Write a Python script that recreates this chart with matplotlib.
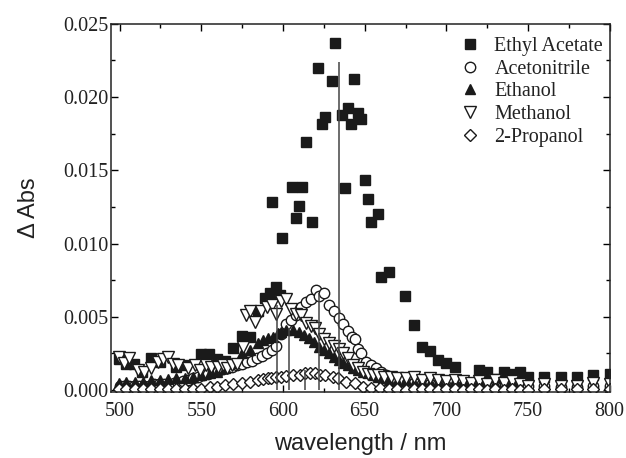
import numpy as np
import matplotlib
matplotlib.use("Agg")
import matplotlib.pyplot as plt
from matplotlib.ticker import MultipleLocator

# ---------------- data ----------------
ea_wl = [499.6, 504, 509, 514, 519.4, 524.5, 534.7, 539.8, 550, 555, 559.6, 564.7,
         569.4, 574.7, 579.8, 584.9, 588.8, 591.8, 593.5, 595.9, 598, 599.6, 605.7,
         607.8, 609.8, 611.8, 613.8, 617.8, 621.6, 623.9, 625.7, 629.8, 631.8, 636,
         637.8, 639.8, 641.9, 643.7, 645.9, 648, 650, 652, 654.1, 658.2, 660.2, 664.9,
         674.8, 680, 685.1, 689.8, 695, 700, 705.1, 720, 724.9, 730, 735.1, 740.2,
         744.9, 750, 760, 770, 780, 790, 800]
ea_abs = [0.0021, 0.0018, 0.00175, 0.0012, 0.00216, 0.00194, 0.0016, 0.0017, 0.00243,
          0.00243, 0.0021, 0.00198, 0.00284, 0.00367, 0.0036, 0.0054, 0.0063, 0.0066,
          0.01286, 0.0070, 0.0065, 0.01036, 0.01387, 0.01177, 0.01257, 0.01387, 0.0169,
          0.0115, 0.02197, 0.01817, 0.01863, 0.02111, 0.02368, 0.01878, 0.01382, 0.01924,
          0.01817, 0.02126, 0.01894, 0.01853, 0.01433, 0.01301, 0.0115, 0.012, 0.00774,
          0.00806, 0.00644, 0.00444, 0.00296, 0.00269, 0.00205, 0.00182, 0.00155, 0.00137,
          0.00125, 0.00075, 0.00125, 0.00109, 0.00125, 0.00091, 0.00087, 0.00091, 0.00087,
          0.00102, 0.00109]

acn_wl = [500, 503, 506, 509, 512, 515, 518, 521, 524, 527, 530, 533, 536, 539, 542,
          545, 548, 551, 554, 557, 560, 563, 566, 569, 572, 575, 578, 581, 584, 587,
          590, 593, 596, 599, 602, 605, 608, 611, 614, 617, 620, 622, 625, 628, 631,
          634, 637, 640, 642, 644, 646, 648, 651, 654, 657, 660, 663, 666, 669, 672,
          676, 680, 685, 690, 695, 700, 710, 720, 730, 740, 750, 760, 770, 780, 790, 800]
acn_abs = [0.0003, 0.0003, 0.0003, 0.0003, 0.0003, 0.0003, 0.0003, 0.0004, 0.0004,
           0.0004, 0.0004, 0.0005, 0.0005, 0.0006, 0.0007, 0.0008, 0.0009, 0.0010,
           0.0011, 0.0012, 0.0013, 0.0014, 0.0015, 0.0016, 0.0017, 0.0018, 0.0019,
           0.0020, 0.0022, 0.0023, 0.0025, 0.0027, 0.0030, 0.0038, 0.0045, 0.0048,
           0.0051, 0.0057, 0.0060, 0.0062, 0.0068, 0.0064, 0.0066, 0.0058, 0.0054,
           0.0049, 0.0045, 0.0040, 0.0036, 0.0035, 0.0028, 0.0025, 0.0019, 0.0017,
           0.0015, 0.0012, 0.0010, 0.0008, 0.0007, 0.0006, 0.0005, 0.0005, 0.0004,
           0.0004, 0.0004, 0.0003, 0.0003, 0.0003, 0.0003, 0.0003, 0.0003, 0.0003,
           0.0002, 0.0002, 0.0003, 0.0003]

etoh_wl = [499.6, 504.1, 509.2, 514.3, 519.4, 524.5, 529.6, 534.7, 539.8, 544.9, 550,
           555.1, 559.6, 564.7, 569.4, 574.7, 579.8, 584.9, 587.8, 590.8, 593.9, 597,
           599, 602, 606, 610, 613, 616, 619, 622, 625, 628, 631, 634, 637, 640, 643,
           646, 649, 652, 655, 658, 661, 665, 670, 675, 680, 685, 690, 695, 700, 705,
           710, 715, 720, 725, 730, 735, 740, 745, 750, 760, 770, 780, 790, 800]
etoh_abs = [0.00046, 0.00057, 0.00057, 0.00057, 0.00068, 0.00068, 0.00073, 0.0008,
            0.0008, 0.00091, 0.00102, 0.00114, 0.00125, 0.00148, 0.00187, 0.0025,
            0.00273, 0.00319, 0.00342, 0.00353, 0.00364, 0.00387, 0.00398, 0.0041,
            0.0041, 0.00398, 0.00376, 0.00353, 0.0033, 0.00296, 0.00273, 0.0025,
            0.00228, 0.00205, 0.00182, 0.00171, 0.0015, 0.00137, 0.00125, 0.00114,
            0.001, 0.0009, 0.0008, 0.0007, 0.0006, 0.0007, 0.0005, 0.0006, 0.0005,
            0.0006, 0.0005, 0.0007, 0.0006, 0.0005, 0.0006, 0.0004, 0.0005, 0.0003,
            0.0006, 0.0003, 0.0001, 0.0003, 0.0001, 0.0001, 0.0003, 0.0002]

meoh_wl = [499.4, 503, 506, 511, 515, 519, 523.5, 526.5, 529.6, 532.5, 535.7, 541.8,
           545.9, 549, 553, 556, 560, 563, 566, 569, 572, 575.5, 577.5, 580, 582.6,
           586.8, 590, 593, 596, 599, 602, 605, 608, 611, 614.3, 617, 619.5, 622, 625,
           628, 631, 634, 637, 640, 643, 646, 649, 652, 655, 658, 662, 666, 670, 675,
           680, 685, 690, 695, 700, 705, 710, 715, 720, 725, 730, 735, 740, 745, 750,
           760, 770, 780, 790, 800]
meoh_abs = [0.00228, 0.00182, 0.00216, 0.00137, 0.00125, 0.0015, 0.00194, 0.0021,
            0.00228, 0.0018, 0.00171, 0.00148, 0.00171, 0.00137, 0.0017, 0.0016,
            0.00159, 0.0017, 0.00148, 0.0017, 0.0018, 0.00296, 0.0051, 0.0054,
            0.00467, 0.0054, 0.0057, 0.0058, 0.0052, 0.0061, 0.0062, 0.0055, 0.0052,
            0.0051, 0.0046, 0.0044, 0.0042, 0.0038, 0.0035, 0.0032, 0.0030, 0.0028,
            0.0025, 0.0022, 0.0017, 0.0015, 0.0012, 0.0011, 0.0010, 0.0010, 0.0009,
            0.0009, 0.0008, 0.0008, 0.0009, 0.0007, 0.0008, 0.0007, 0.0006, 0.0007,
            0.0006, 0.0005, 0.0006, 0.0004, 0.0007, 0.0005, 0.0006, 0.0004, 0.0003,
            0.0004, 0.0003, 0.0003, 0.0005, 0.0004]

prop_wl = [499.6, 504.1, 509.2, 514.3, 519.4, 524.5, 529.6, 534.7, 539.8, 544.9, 550,
           555.1, 559.6, 564.7, 569.4, 574.7, 579.8, 584.9, 587.8, 590.8, 592.9, 595.9,
           599, 602, 606.1, 610.2, 613.3, 616.3, 619.4, 622.4, 625.5, 630.6, 633.7,
           638.8, 643.9, 649, 654.1, 659.2, 665, 670, 675, 680, 685, 690, 695, 700, 705,
           710, 715, 720, 725, 730, 735, 740, 745, 750, 760, 770, 780, 790, 800]
prop_abs = [0.00005, 0.00005, 0.00005, 0.00005, 0.00005, 0.00005, 0.00005, 0.00005,
            0.0001, 0.0001, 0.0001, 0.00023, 0.00023, 0.00034, 0.00041, 0.0005, 0.00057,
            0.00068, 0.00073, 0.0008, 0.00084, 0.00091, 0.00091, 0.00096, 0.00102,
            0.00102, 0.00118, 0.00114, 0.00114, 0.00102, 0.00102, 0.00091, 0.0008,
            0.00057, 0.00046, 0.00023, 0.00011, 0.00011, 0.0001, 0.0001, 0.0, 0.0001,
            0.0001, 0.0001, 0.0, 0.0001, 0.0001, 0.0, 0.0001, 0.0001, 0.0, 0.0001, 0.0,
            0.0001, 0.0, 0.0, 0.0001, 0.0001, 0.0001, 0.0001, 0.0001]

# band maxima marked with vertical lines
peak_wl = [634.1, 621.9, 603.7, 596.3, 613.7]
peak_abs = [0.0224, 0.0066, 0.0042, 0.0058, 0.00137]

# ---------------- plot ----------------
fig = plt.figure(figsize=(6.26, 4.58), dpi=100)
ax = fig.add_axes([0.178, 0.144, 0.796, 0.804])

ms = 6.5
ax.plot(ea_wl, ea_abs, 's', color='#1a1a1a', ms=ms, mec='#1a1a1a', label='Ethyl Acetate')
ax.plot(acn_wl, acn_abs, 'o', mfc='white', mec='#1a1a1a', ms=7.5, mew=1.0, label='Acetonitrile')
ax.plot(etoh_wl, etoh_abs, '^', color='#1a1a1a', ms=7.5, label='Ethanol')
ax.plot(meoh_wl, meoh_abs, 'v', mfc='white', mec='#1a1a1a', ms=8, mew=1.0, label='Methanol')
ax.plot(prop_wl, prop_abs, 'D', mfc='white', mec='#1a1a1a', ms=6, mew=1.0, label='2-Propanol')

ax.vlines(peak_wl, 0, peak_abs, colors='#444444', lw=1.1, zorder=5)

ax.set_xlim(495, 800)
ax.set_ylim(-0.00014, 0.025)
ax.xaxis.set_major_locator(MultipleLocator(50))
ax.xaxis.set_minor_locator(MultipleLocator(25))
ax.yaxis.set_major_locator(MultipleLocator(0.005))
ax.yaxis.set_minor_locator(MultipleLocator(0.0025))
ax.yaxis.set_major_formatter(plt.FormatStrFormatter('%.3f'))
ax.tick_params(which='both', direction='in', top=True, right=True, width=1.0)
ax.tick_params(which='major', length=5)
ax.tick_params(which='minor', length=3)
ax.tick_params(axis='x', which='major', pad=7)
ax.tick_params(axis='y', which='major', pad=2)
for lab in ax.get_xticklabels() + ax.get_yticklabels():
    lab.set_fontfamily('Liberation Serif')
    lab.set_fontsize(14.5)
    lab.set_color('#222222')
for sp in ax.spines.values():
    sp.set_linewidth(1.1)
    sp.set_color('#222222')

ax.set_xlabel('wavelength / nm', fontfamily='Liberation Sans', fontsize=17, color='#222222', labelpad=9)
ax.set_ylabel('Δ Abs', fontfamily='Liberation Sans', fontsize=17, color='#222222', labelpad=17)

leg = ax.legend(loc='upper right', frameon=False, prop={'family': 'Liberation Serif', 'size': 14.5},
                handletextpad=0.6, labelspacing=0.18, borderaxespad=0.3, handlelength=1.2,
                bbox_to_anchor=(1.015, 1.003))
for t in leg.get_texts():
    t.set_color('#222222')

fig.savefig('out.png', dpi=100)
